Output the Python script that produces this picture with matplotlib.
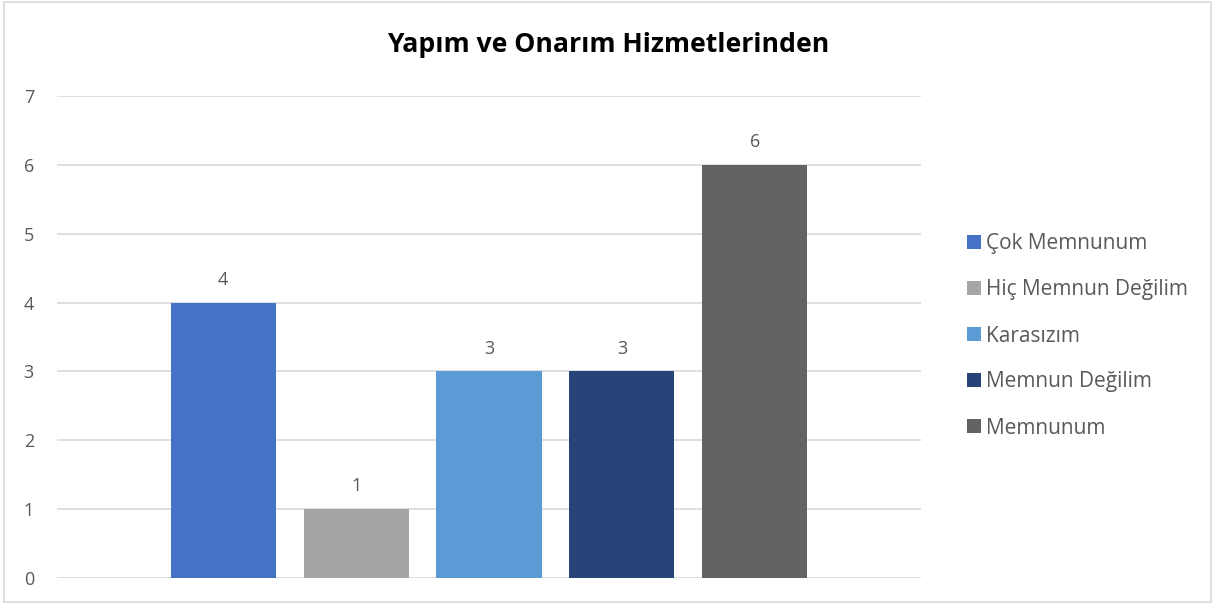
import matplotlib
matplotlib.use("Agg")
import matplotlib.pyplot as plt
from matplotlib.patches import Rectangle

# data
title = "Yapım ve Onarım Hizmetlerinden"
series = ["Çok Memnunum", "Hiç Memnun Değilim", "Karasızım", "Memnun Değilim", "Memnunum"]
values = [4, 1, 3, 3, 6]
colors = ["#4472c4", "#a5a5a5", "#5b9bd5", "#264478", "#636363"]
yticks = [0, 1, 2, 3, 4, 5, 6, 7]

plt.rcParams['font.family'] = ['Open Sans', 'DejaVu Sans']
txt = "#595959"

fig = plt.figure(figsize=(12.15, 6.03), dpi=100)
ax = fig.add_axes([57 / 1215, 25 / 603, (921 - 57) / 1215, (578 - 96) / 603])

bars = []
for i, (name, v, c) in enumerate(zip(series, values, colors)):
    b = ax.bar(i, v, width=0.79, color=c, label=name, zorder=3)
    bars.append(b)
    ax.text(i, v + 0.2, str(v), ha="center", va="bottom", fontsize=13, color=txt)

ax.set_xlim(-1.25, 5.25)
ax.set_ylim(0, 7)
ax.set_yticks(yticks)
ax.set_xticks([])
ax.grid(axis="y", color="#d9d9d9", linewidth=1.2, zorder=0)
for s in ax.spines.values():
    s.set_visible(False)
ax.tick_params(axis="y", length=0, labelsize=13, labelcolor=txt)
for lab in ax.get_yticklabels():
    lab.set_horizontalalignment("left")
ax.tick_params(axis="y", pad=24)

fig.text(608 / 1215, 1 - 45 / 603, title, ha="center", va="center",
         fontsize=19.2, fontweight="bold", color="black")

leg = fig.legend(handles=[b[0] for b in bars], labels=series,
                 loc="center left", bbox_to_anchor=(948 / 1215, 1 - 336 / 603),
                 frameon=False, fontsize=15, labelcolor=txt,
                 handlelength=0.66, handleheight=0.66, handletextpad=0.25,
                 labelspacing=1.2)

fig.patches.append(Rectangle((4 / 1215, 0.002), 1207 / 1215, 0.994,
                             transform=fig.transFigure, fill=False,
                             edgecolor="#d9d9d9", linewidth=1.2))

fig.savefig("out.png", dpi=100)
